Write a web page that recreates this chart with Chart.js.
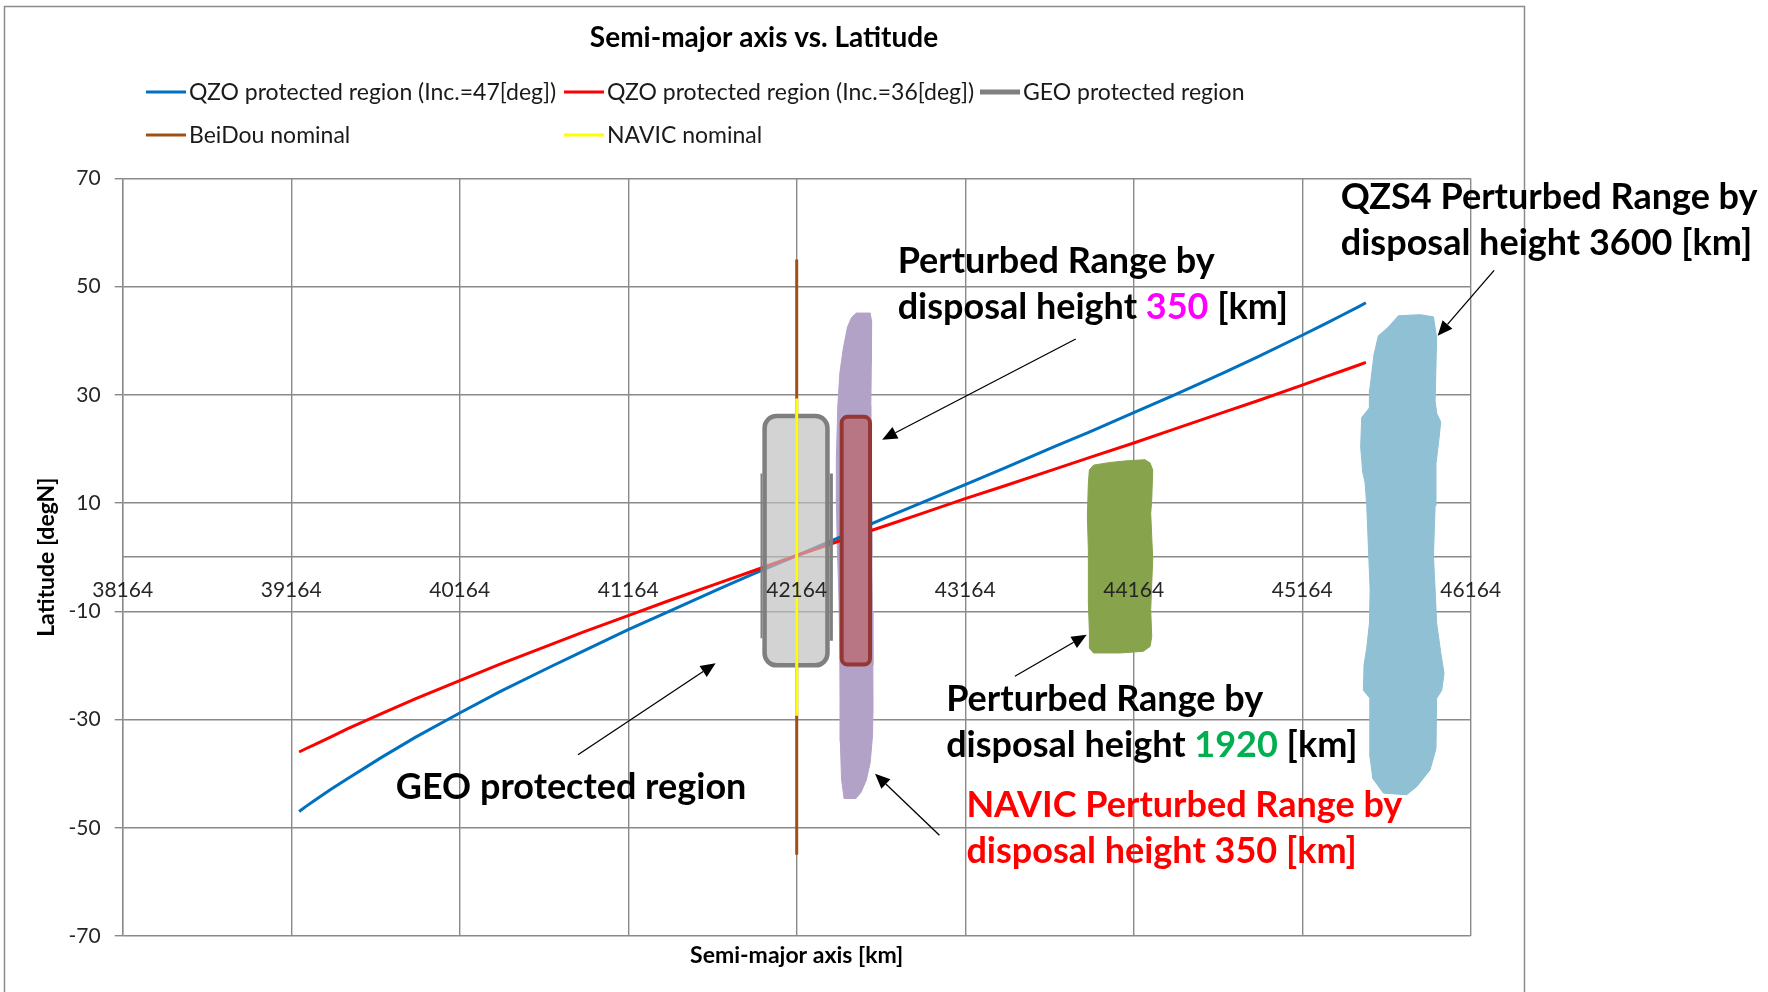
<!DOCTYPE html>
<html><head><meta charset="utf-8">
<script src="https://cdn.jsdelivr.net/npm/chart.js@4.4.1/dist/chart.umd.min.js"></script>
<style>html,body{margin:0;padding:0;background:#fff;}canvas{display:block;}</style>
</head><body>
<canvas id="c" width="1768" height="992" style="width:1768px;height:992px"></canvas>
<script>
// ---------- data ----------
const chartTitle = 'Semi-major axis vs. Latitude';
const xAxisTitle = 'Semi-major axis [km]';
const yAxisTitle = 'Latitude [degN]';
const xTickValues = [38164, 39164, 40164, 41164, 42164, 43164, 44164, 45164, 46164];
const yTickValues = [70, 50, 30, 10, -10, -30, -50, -70];

const qzoSemiMajor = [39211, 39250, 39300, 39400, 39500, 39700, 39900, 40164, 40400, 40700, 40900, 41164, 41400, 41700, 41900, 42164, 42400, 42700, 42900, 43164, 43400, 43700, 43900, 44164, 44400, 44700, 44900, 45164, 45300, 45400, 45500, 45542];
const qzo47Lat = [-47.0, -46.1, -45.0, -42.9, -40.9, -37.0, -33.3, -28.8, -24.9, -20.3, -17.3, -13.4, -10.1, -5.9, -3.2, 0.3, 3.4, 7.4, 10.0, 13.4, 16.5, 20.5, 23.1, 26.7, 29.9, 34.1, 37.0, 41.0, 43.1, 44.7, 46.3, 47.0];
const qzo36Lat = [-36.0, -35.4, -34.7, -33.2, -31.7, -28.9, -26.2, -22.8, -19.8, -16.2, -13.8, -10.8, -8.1, -4.8, -2.6, 0.3, 2.8, 5.9, 8.0, 10.8, 13.2, 16.3, 18.4, 21.1, 23.6, 26.8, 28.9, 31.8, 33.3, 34.4, 35.5, 36.0];

const geoRegionX = [41964, 42364, 42364, 41964, 41964];
const geoRegionLat = [-15, -15, 15, 15, -15];
const beidouX = [42164, 42164];
const beidouLat = [55, -55];
const navicX = [42164, 42164];
const navicLat = [29.3, -29.3];

// perturbed ranges (outlines)
const navicRange350 = [[42518,45.1],[42600,45.1],[42609,43.5],[42607,36],[42604,28],[42603,20],[42607,10],[42610,0],[42613,-10],[42616,-20],[42617,-28],[42614,-33],[42600,-38],[42577,-41.2],[42545,-43.5],[42515,-44.6],[42445,-44.6],[42430,-41],[42423,-34],[42421,-26],[42420,-18],[42415,-8],[42405,2],[42400,10],[42399,18],[42408,28],[42420,34],[42440,38.5],[42465,42.5],[42490,44.3],[42518,45.1]];
const range1920 = [[43925,17.0],[44024,17.5],[44123,17.8],[44231,18.0],[44261,17.4],[44277,16.1],[44271,10.6],[44265,8.1],[44271,3.8],[44277,-0.5],[44271,-4.8],[44265,-9.7],[44271,-14.7],[44261,-16.5],[44221,-17.4],[44083,-17.7],[43925,-17.7],[43901,-16.8],[43901,-13.7],[43895,-8.5],[43895,1.35],[43889,7.5],[43895,13.7],[43901,16.1],[43925,17.0]];
const qzs4Range3600 = [[45735,44.6],[45675,42.5],[45616,40.9],[45590,37.4],[45565,31],[45563,27.6],[45517,25.8],[45511,20.4],[45523,15.7],[45537,13.8],[45547,9.5],[45557,1.8],[45567,-6.0],[45563,-12.2],[45547,-16.8],[45531,-19.9],[45527,-24.6],[45567,-26.1],[45567,-37.0],[45583,-40.9],[45646,-43.6],[45784,-43.9],[45844,-42.4],[45923,-39.3],[45958,-35.4],[45962,-26.1],[45992,-24.6],[46006,-21.5],[45986,-17.6],[45962,-12.2],[45953,-6.0],[45943,0.2],[45953,9.5],[45958,17.3],[45976,21.9],[45986,25.0],[45962,26.6],[45953,28.9],[45962,40.5],[45943,44.4],[45864,44.8],[45735,44.6]];

// highlighted boxes [min, max]
const geoBoxX = [41960, 42360];
const geoBoxLat = [-20.4, 26.5];
const navicBoxX = [42419, 42611];
const navicBoxLat = [-20.2, 26.3];

// annotation arrows (data coordinates)
const arrowStart = [[43820, 40.3], [46303, 53.0], [43459, -22.0], [40866, -36.5], [43011, -51.4]];
const arrowEnd = [[42671, 21.7], [45968, 40.9], [43885, -14.35], [41683, -19.6], [42629, -40.0]];

// annotation texts: anchor (semi-major axis, latitude) and coloured parts
const annotationAnchor = [[42763, 54.6], [42763, 46.1], [45393, 66.5], [45393, 58.0], [43051, -26.2], [43051, -34.7], [39785, -42.6], [43171, -45.8], [43171, -54.3]];
const annotationParts = [
  [['Perturbed Range by', '#000000']],
  [['disposal height ', '#000000'], ['350', '#FF00FF'], [' [km]', '#000000']],
  [['QZS4 Perturbed Range by', '#000000']],
  [['disposal height 3600 [km]', '#000000']],
  [['Perturbed Range by', '#000000']],
  [['disposal height ', '#000000'], ['1920', '#00B050'], [' [km]', '#000000']],
  [['GEO protected region', '#000000']],
  [['NAVIC Perturbed Range by', '#FF0000']],
  [['disposal height 350 [km]', '#FF0000']]
];

const legendSeries = ['QZO protected region (Inc.=47[deg])', 'QZO protected region (Inc.=36[deg])', 'GEO protected region', 'BeiDou nominal', 'NAVIC nominal'];

// ---------- helpers ----------
const pts = (xs, ys) => xs.map((x, i) => ({x: x, y: ys[i]}));
const pairs = arr => arr.map(p => ({x: p[0], y: p[1]}));
const gridColor = '#8A8A8A';
Chart.defaults.font.family = 'Lato, "Open Sans", sans-serif';

function lineDs(label, data, color, width, order) {
  return {label, data, borderColor: color, backgroundColor: color, borderWidth: width, showLine: true,
    pointRadius: 0, pointHoverRadius: 0, tension: 0, fill: false, order};
}
function blobDs(label, data, color) {
  return {label, data, borderColor: color, backgroundColor: color, borderWidth: 1, showLine: true,
    pointRadius: 0, pointHoverRadius: 0, tension: 0, fill: 'shape', order: 10};
}

function roundRectPath(ctx, x, y, w, h, r) {
  ctx.moveTo(x + r, y);
  ctx.arcTo(x + w, y, x + w, y + h, r);
  ctx.arcTo(x + w, y + h, x, y + h, r);
  ctx.arcTo(x, y + h, x, y, r);
  ctx.arcTo(x, y, x + w, y, r);
  ctx.closePath();
}
function boxPixels(chart, xs, lats) {
  const sx = chart.scales.x, sy = chart.scales.y;
  return {x1: sx.getPixelForValue(xs[0]), x2: sx.getPixelForValue(xs[1]),
          y1: sy.getPixelForValue(lats[1]), y2: sy.getPixelForValue(lats[0])};
}
function drawBox(chart, xs, lats, fill, stroke, lw, r) {
  const ctx = chart.ctx, b = boxPixels(chart, xs, lats);
  ctx.save();
  ctx.beginPath();
  roundRectPath(ctx, b.x1 + lw / 2, b.y1 + lw / 2, b.x2 - b.x1 - lw, b.y2 - b.y1 - lw, r);
  ctx.fillStyle = fill; ctx.fill();
  ctx.lineWidth = lw; ctx.strokeStyle = stroke; ctx.stroke();
  ctx.restore();
}

const overlayPlugin = {
  id: 'overlayBoxes',
  beforeDatasetDraw(chart, args) {
    if (chart.data.datasets[args.index].label !== 'GEO protected region') return;
    const ctx = chart.ctx, b = boxPixels(chart, geoBoxX, geoBoxLat);
    ctx.save();
    ctx.beginPath();
    ctx.rect(0, 0, chart.width, chart.height);
    roundRectPath(ctx, b.x1, b.y1, b.x2 - b.x1, b.y2 - b.y1, 12);
    ctx.clip('evenodd');
  },
  afterDatasetDraw(chart, args) {
    if (chart.data.datasets[args.index].label !== 'GEO protected region') return;
    chart.ctx.restore();
    drawBox(chart, geoBoxX, geoBoxLat, 'rgba(190,190,190,0.68)', '#7F7F7F', 4.5, 12);
    drawBox(chart, navicBoxX, navicBoxLat, '#B87584', '#953735', 4, 6);
  }
};

const decorPlugin = {
  id: 'decor',
  beforeDraw(chart) {
    const ctx = chart.ctx;
    ctx.save();
    ctx.fillStyle = '#ffffff';
    ctx.fillRect(0, 0, chart.width, chart.height);
    ctx.strokeStyle = '#8C8C8C'; ctx.lineWidth = 1.5;
    ctx.beginPath();
    ctx.moveTo(4.5, chart.height + 5); ctx.lineTo(4.5, 6.5); ctx.lineTo(1524.5, 6.5); ctx.lineTo(1524.5, chart.height + 5);
    ctx.stroke();
    ctx.restore();
  },
  afterDraw(chart) {
    const ctx = chart.ctx, sx = chart.scales.x, sy = chart.scales.y;
    ctx.save();
    // legend
    const cols = [146, 564, 980], rows = [92, 135];
    ctx.font = '23px Lato';
    ctx.textBaseline = 'middle'; ctx.textAlign = 'left';
    legendSeries.forEach((name, i) => {
      const d = chart.data.datasets.find(s => s.label === name);
      const cx = cols[i % 3], cy = rows[Math.floor(i / 3)];
      ctx.strokeStyle = d.borderColor; ctx.lineWidth = d.borderWidth;
      ctx.beginPath(); ctx.moveTo(cx, cy); ctx.lineTo(cx + 40, cy); ctx.stroke();
      ctx.fillStyle = '#1A1A1A';
      ctx.fillText(name, cx + 43, cy + 1);
    });
    // arrows
    ctx.strokeStyle = '#000'; ctx.fillStyle = '#000'; ctx.lineWidth = 1.3;
    arrowStart.forEach((s, i) => {
      const e = arrowEnd[i];
      const x1 = sx.getPixelForValue(s[0]), y1 = sy.getPixelForValue(s[1]);
      const x2 = sx.getPixelForValue(e[0]), y2 = sy.getPixelForValue(e[1]);
      const a = Math.atan2(y2 - y1, x2 - x1), L = 15, W = 6.5;
      const bx = x2 - L * Math.cos(a), by = y2 - L * Math.sin(a);
      ctx.beginPath(); ctx.moveTo(x1, y1); ctx.lineTo(bx, by); ctx.stroke();
      ctx.beginPath(); ctx.moveTo(x2, y2);
      ctx.lineTo(bx + W * Math.sin(a), by - W * Math.cos(a));
      ctx.lineTo(bx - W * Math.sin(a), by + W * Math.cos(a));
      ctx.closePath(); ctx.fill();
    });
    // annotation texts
    ctx.font = 'bold 36px Lato';
    annotationAnchor.forEach((p, i) => {
      let x = sx.getPixelForValue(p[0]);
      const y = sy.getPixelForValue(p[1]);
      annotationParts[i].forEach(part => {
        ctx.fillStyle = part[1];
        ctx.fillText(part[0], x, y);
        x += ctx.measureText(part[0]).width;
      });
    });
    ctx.restore();
  }
};

const chart = new Chart(document.getElementById('c'), {
  type: 'scatter',
  data: {
    datasets: [
      lineDs(legendSeries[0], pts(qzoSemiMajor, qzo47Lat), '#0070C0', 3, 7),
      lineDs(legendSeries[1], pts(qzoSemiMajor, qzo36Lat), '#FF0000', 3, 6),
      lineDs(legendSeries[2], pts(geoRegionX, geoRegionLat), '#808080', 5, 4),
      lineDs(legendSeries[3], pts(beidouX, beidouLat), '#A05014', 3, 5),
      lineDs(legendSeries[4], pts(navicX, navicLat), '#FFFF00', 3, 3),
      blobDs('NAVIC perturbed range 350 km', pairs(navicRange350), '#B3A2C7'),
      blobDs('Perturbed range 1920 km', pairs(range1920), '#87A34B'),
      blobDs('QZS4 perturbed range 3600 km', pairs(qzs4Range3600), '#8FC0D3')
    ]
  },
  options: {
    responsive: false,
    devicePixelRatio: 1,
    animation: false,
    events: [],
    layout: {padding: {left: 4, right: 244, top: 0, bottom: 0}},
    scales: {
      x: {
        type: 'linear', position: {y: 0}, min: 38164, max: 46164,
        afterBuildTicks: s => { s.ticks = xTickValues.map(v => ({value: v})); },
        ticks: {callback: v => String(v), font: {size: 21}, color: '#262626', padding: 20, maxRotation: 0, autoSkip: false, z: 1},
        grid: {color: gridColor, lineWidth: 1.4, drawTicks: false},
        border: {color: gridColor, width: 1.4}
      },
      y: {
        type: 'linear', position: 'left', min: -70, max: 70,
        afterBuildTicks: s => { s.ticks = yTickValues.map(v => ({value: v})); },
        afterFit: s => { s.width = 118.7; },
        ticks: {callback: v => String(v), font: {size: 21}, color: '#262626', padding: 14},
        grid: {color: gridColor, lineWidth: 1.4, tickLength: 8},
        border: {color: gridColor, width: 1.4},
        title: {display: true, text: yAxisTitle, font: {size: 23, weight: 'bold'}, color: '#000', padding: {top: 29, bottom: 0}}
      },
      yRight: {
        type: 'linear', position: 'right', min: 0, max: 1,
        afterFit: s => { s.width = 53.3; },
        grid: {display: false}, ticks: {display: false}, border: {display: false}
      }
    },
    plugins: {
      legend: {display: false},
      tooltip: {enabled: false},
      title: {display: true, text: chartTitle, font: {size: 28, weight: 'bold'}, color: '#000', padding: {top: 21, bottom: 123.7}},
      subtitle: {display: true, position: 'bottom', fullSize: false, text: xAxisTitle, font: {size: 23, weight: 'bold'}, color: '#000', padding: {top: 6.2, bottom: 22.2}}
    }
  },
  plugins: [overlayPlugin, decorPlugin]
});
</script>
</body></html>
